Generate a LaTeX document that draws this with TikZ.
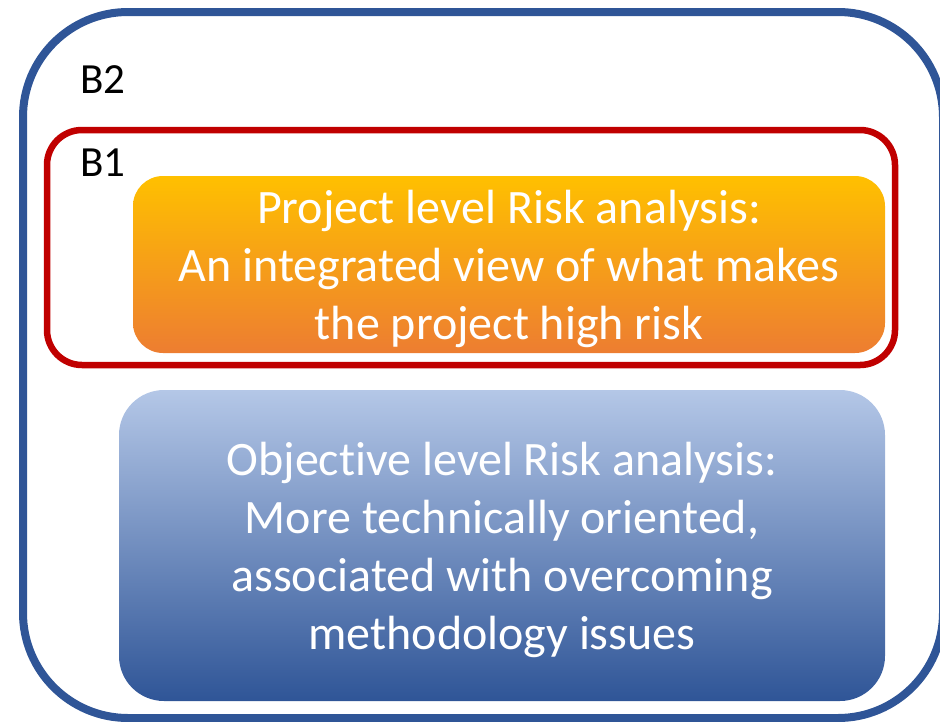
\documentclass[tikz,border=0pt]{standalone}
\usepackage{fontspec}
\setmainfont{Carlito}[Ligatures=CommonOff]
\usetikzlibrary{positioning}
\definecolor{outerblue}{HTML}{2F5597}
\definecolor{framered}{HTML}{C00000}
\definecolor{orangetop}{HTML}{FFC000}
\definecolor{orangebot}{HTML}{ED7D31}
\definecolor{bluetop}{HTML}{B4C7E7}
\definecolor{bluebot}{HTML}{2F5597}

\begin{document}
\begin{tikzpicture}[x=1pt,y=-1pt,
   frame/.style={draw,rectangle,inner sep=0pt},
   panel/.style={rectangle,inner sep=0pt,align=center,text=white,text depth=0pt,
                 font=\fontsize{48}{58}\selectfont},
   lbl/.style={anchor=base west,inner sep=0pt,font=\fontsize{43}{50}\selectfont}]
  \useasboundingbox (0,0) rectangle (940,721);
  % outer and inner frames
  \node[frame,draw=outerblue,line width=8pt,rounded corners=105pt,
        minimum width=920pt,minimum height=706pt] (b2box) at (483,365) {};
  \node[frame,draw=framered,line width=6.5pt,rounded corners=35pt,
        minimum width=848pt,minimum height=235pt] (b1box) at (471,247.5) {};
  \node[lbl] (b2) at (80,93) {B2};
  \node[lbl] (b1) at (80,176) {B1};
  % the two analysis panels
  \node[panel,top color=orangetop,bottom color=orangebot,rounded corners=30pt,
        minimum width=752pt,minimum height=177pt] (project) at (509,264.5)
        {Project level Risk analysis:\\An integrated view of what makes\\the project high risk};
  \node[panel,top color=bluetop,bottom color=bluebot,rounded corners=45pt,
        minimum width=766pt,minimum height=311pt] (objective) at (502,545.5)
        {Objective level Risk analysis:\\More technically oriented,\\associated with overcoming\\methodology issues};
\end{tikzpicture}
\end{document}
